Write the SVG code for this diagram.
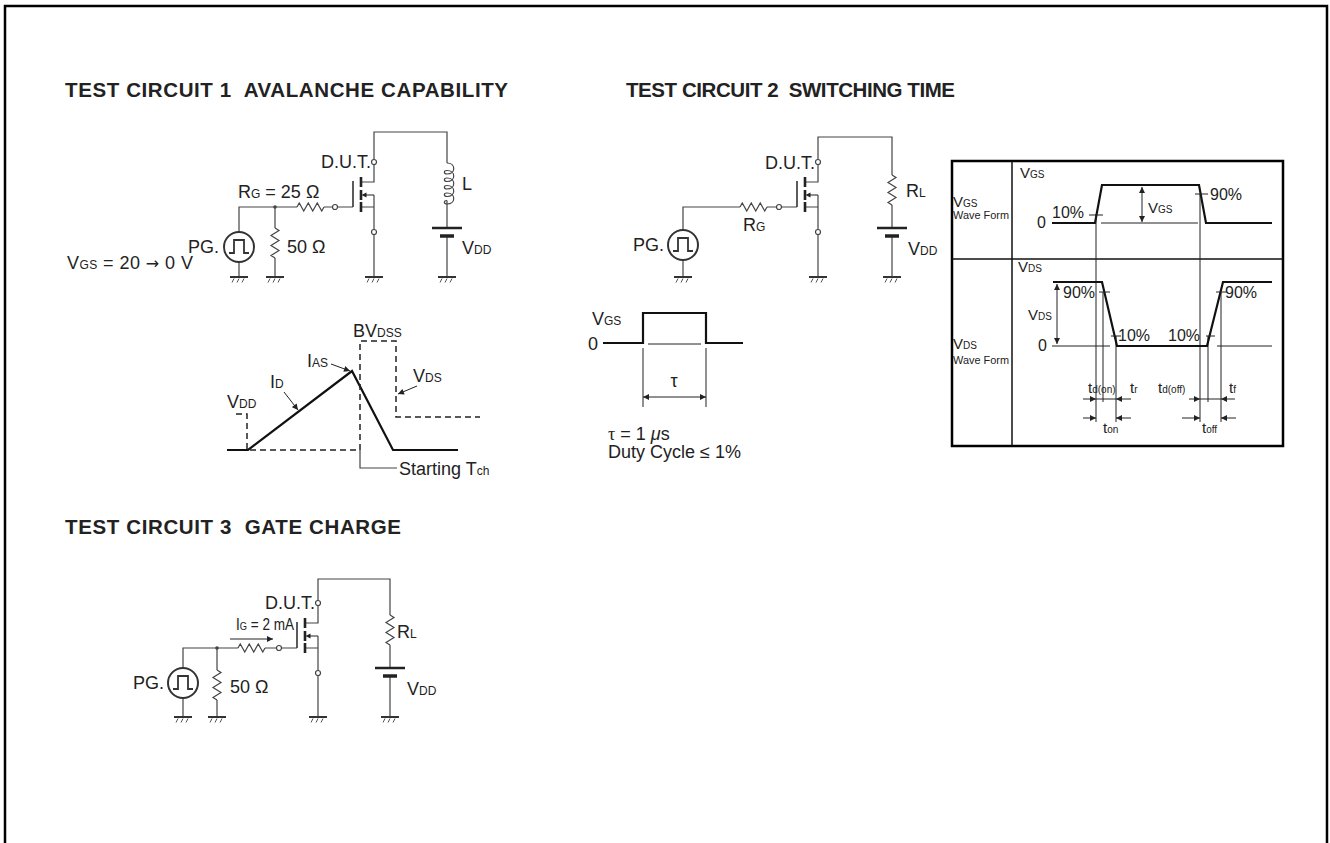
<svg xmlns="http://www.w3.org/2000/svg" xmlns:xlink="http://www.w3.org/1999/xlink" width="1330" height="843" viewBox="0 0 1330 843">
<style>
  text { font-family: "Liberation Sans", Arial, sans-serif; fill: #222; font-size: 18px; }
  .title { font-weight: bold; font-size: 20.5px; white-space: pre; }
  .s { font-size: 12px; }
  .sm { font-size: 15px; }
  .sm .s { font-size: 10px; }
  .wf { font-size: 10.5px; }
  .pct { font-size: 16px; }
  .t { font-size: 15px; }
  .t .s { font-size: 10px; }
  .ig { font-size: 16px; }
  .ig .s { font-size: 11px; }
  .arr { font-family: "DejaVu Sans", sans-serif; font-size: 16px; }
  .w { stroke: #444; stroke-width: 1.2; fill: none; }
  .thk { stroke: #111; stroke-width: 2.2; fill: none; }
  .th { stroke: #222; stroke-width: 1; fill: none; }
  .dash { stroke: #222; stroke-width: 1.5; fill: none; stroke-dasharray: 6 4; }
  .term { stroke: #444; stroke-width: 1.2; fill: #fff; }
  .frame { stroke: #000; stroke-width: 2.5; fill: none; }
</style>
<defs>
  <marker id="ah" viewBox="0 0 10 10" refX="10" refY="5" markerWidth="7" markerHeight="6" markerUnits="userSpaceOnUse" orient="auto-start-reverse">
    <path d="M0,0 L10,5 L0,10 z" fill="#222"/>
  </marker>
  <g id="gnd">
    <line x1="-9" y1="0" x2="9" y2="0" stroke="#333" stroke-width="2"/>
    <path d="M-5,1.5 l-2,4 M0,1.5 l-2,4 M5,1.5 l-2,4" stroke="#555" stroke-width="1" fill="none"/>
  </g>
  <g id="pg">
    <circle cx="0" cy="0" r="15" stroke="#333" stroke-width="2" fill="#fff"/>
    <path d="M-10,6 H-5 V-7 H5 V6 H10" stroke="#333" stroke-width="1.8" fill="none"/>
  </g>
  <path id="resH" d="M0,0 l2.25,-4 l4.5,8 l4.5,-8 l4.5,8 l4.5,-8 l4.5,8 l2.25,-4" stroke="#444" stroke-width="1.2" fill="none"/>
  <path id="resV" d="M0,0 l4,2.5 l-8,5 l8,5 l-8,5 l8,5 l-8,5 l4,2.5" stroke="#444" stroke-width="1.2" fill="none"/>
  <g id="bat">
    <line x1="-15" y1="0" x2="15" y2="0" stroke="#222" stroke-width="2.5"/>
    <line x1="-7" y1="8" x2="7" y2="8" stroke="#222" stroke-width="3.5"/>
  </g>
  <g id="mos">
    <path d="M0,-42.5 V-25 H-13 M0,-12 V22.5 M0,0 H-13 M-36.5,0 H-21" stroke="#444" stroke-width="1.2" fill="none"/>
    <path d="M-13,-30 V-20 M-13,-17 V-7 M-13,-5 V5" stroke="#222" stroke-width="2.6" fill="none"/>
    <line x1="-21" y1="-26" x2="-21" y2="0" stroke="#333" stroke-width="1.6"/>
    <line x1="0" y1="-12" x2="-9" y2="-12" stroke="#444" stroke-width="1.2"/>
    <polygon points="-12.5,-12 -7.5,-14.5 -7.5,-9.5" fill="#222"/>
    <circle cx="0" cy="-45" r="2.5" class="term"/>
    <circle cx="0" cy="25" r="2.5" class="term"/>
    <circle cx="-39" cy="0" r="2.5" class="term"/>
  </g>
</defs>

<rect x="0" y="0" width="1330" height="843" fill="#fff"/>
<path class="frame" d="M5,843 V6 H1327 V843"/>

<g id="titles">
  <text class="title" x="65" y="97" textLength="443" lengthAdjust="spacing" xml:space="preserve">TEST CIRCUIT 1  AVALANCHE CAPABILITY</text>
  <text class="title" x="626" y="97" textLength="329" lengthAdjust="spacing" xml:space="preserve">TEST CIRCUIT 2  SWITCHING TIME</text>
  <text class="title" x="65" y="534" textLength="336" lengthAdjust="spacing" xml:space="preserve">TEST CIRCUIT 3  GATE CHARGE</text>
</g>

<!-- ================= TEST CIRCUIT 1 ================= -->
<g id="tc1">
  <g id="tc1-wires">
    <path class="w" d="M374,159.5 V132 H447 V163"/>
    <path class="w" d="M239,232 V207 H297 M324,207 H332.5"/>
    <path class="w" d="M239,262 V277"/>
    <path class="w" d="M275,207 V228 M275,258 V277"/>
    <path class="w" d="M374,234.5 V277"/>
    <path class="w" d="M447,200.5 V228 M447,236 V277"/>
    <circle cx="275" cy="207" r="1.8" fill="#444"/>
  </g>
  <g id="tc1-dut"><use href="#mos" x="374" y="207"/></g>
  <g id="tc1-rg"><use href="#resH" x="297" y="207"/></g>
  <g id="tc1-r50"><use href="#resV" x="275" y="228"/></g>
  <g id="tc1-pg"><use href="#pg" x="239" y="247"/></g>
  <g id="tc1-L"><path class="w" d="M447,163 c9,0 9,11 0,11 c-3.5,0 -3.5,-3.5 0,-3.5 c9,0 9,11 0,11 c-3.5,0 -3.5,-3.5 0,-3.5 c9,0 9,11 0,11 c-3.5,0 -3.5,-3.5 0,-3.5 c9,0 9,11 0,11 c-3.5,0 -3.5,-3.5 0,-3.5 c9,0 9,11 0,11 c-3.5,0 -3.5,-3.5 0,-3.5" stroke-width="1.4"/></g>
  <g id="tc1-vdd"><use href="#bat" x="447" y="228"/></g>
  <g id="tc1-gnd">
    <use href="#gnd" x="239" y="277"/><use href="#gnd" x="275" y="277"/>
    <use href="#gnd" x="374" y="277"/><use href="#gnd" x="447" y="277"/>
  </g>
  <g id="tc1-labels">
    <text x="371" y="168" text-anchor="end">D.U.T.</text>
    <text x="238" y="198">R<tspan class="s">G</tspan> = 25 Ω</text>
    <text x="188" y="253">PG.</text>
    <text x="287" y="253">50 Ω</text>
    <text x="67" y="269" textLength="126" lengthAdjust="spacing">V<tspan class="s">GS</tspan> = 20 <tspan class="arr">→</tspan> 0 V</text>
    <text x="462" y="190">L</text>
    <text x="462" y="254">V<tspan class="s">DD</tspan></text>
  </g>
</g>

<!-- Avalanche waveform -->
<g id="avalanche">
  <path class="thk" d="M227,450 H248 L352,371 L393,450 H458"/>
  <path class="dash" d="M236,414 H247 V450 H360 V341 H396 V417 H480"/>
  <path class="w" d="M360,450 V468 H397" stroke="#222"/>
  <line class="th" x1="331" y1="364" x2="350" y2="371" marker-end="url(#ah)"/>
  <line class="th" x1="284" y1="392" x2="298" y2="410" marker-end="url(#ah)"/>
  <line class="th" x1="417" y1="386" x2="398" y2="394" marker-end="url(#ah)"/>
  <text x="353" y="337">BV<tspan class="s">DSS</tspan></text>
  <text x="307" y="367">I<tspan class="s">AS</tspan></text>
  <text x="270" y="388">I<tspan class="s">D</tspan></text>
  <text x="413" y="382">V<tspan class="s">DS</tspan></text>
  <text x="227" y="408">V<tspan class="s">DD</tspan></text>
  <text x="399" y="475">Starting T<tspan class="s">ch</tspan></text>
</g>

<!-- ================= TEST CIRCUIT 2 ================= -->
<g id="tc2">
  <g id="tc2-wires">
    <path class="w" d="M818,160.5 V137 H892 V175"/>
    <path class="w" d="M683,230 V207 H740 M767,207 H776.5"/>
    <path class="w" d="M683,260 V277"/>
    <path class="w" d="M818,234.5 V277"/>
    <path class="w" d="M892,205 V228 M892,236 V277"/>
  </g>
  <g id="tc2-dut"><use href="#mos" x="818" y="207"/></g>
  <g id="tc2-rg"><use href="#resH" x="740" y="207"/></g>
  <g id="tc2-pg"><use href="#pg" x="683" y="245"/></g>
  <g id="tc2-rl"><use href="#resV" x="892" y="175"/></g>
  <g id="tc2-vdd"><use href="#bat" x="892" y="228"/></g>
  <g id="tc2-gnd">
    <use href="#gnd" x="683" y="277"/><use href="#gnd" x="818" y="277"/><use href="#gnd" x="892" y="277"/>
  </g>
  <g id="tc2-labels">
    <text x="815" y="169" text-anchor="end">D.U.T.</text>
    <text x="743" y="231">R<tspan class="s">G</tspan></text>
    <text x="633" y="251">PG.</text>
    <text x="906" y="197">R<tspan class="s">L</tspan></text>
    <text x="908" y="255">V<tspan class="s">DD</tspan></text>
  </g>
</g>

<!-- Gate pulse -->
<g id="pulse">
  <path class="thk" d="M603,343 H643 V313 H706 V343 H743"/>
  <line class="th" x1="648" y1="344" x2="701" y2="344"/>
  <line class="th" x1="643" y1="348" x2="643" y2="407"/>
  <line class="th" x1="706" y1="348" x2="706" y2="407"/>
  <line class="th" x1="643" y1="397" x2="706" y2="397" marker-start="url(#ah)" marker-end="url(#ah)"/>
  <text x="592" y="325">V<tspan class="s">GS</tspan></text>
  <text x="588" y="350">0</text>
  <text x="674" y="387" text-anchor="middle" font-family="Liberation Serif, serif">τ</text>
  <text x="608" y="440"><tspan font-family="Liberation Serif, serif">τ</tspan> = 1 <tspan font-style="italic">μ</tspan>s</text>
  <text x="608" y="458">Duty Cycle ≤ 1%</text>
</g>

<!-- Switching waveform box -->
<g id="waveforms">
  <rect x="952" y="161" width="331" height="285" fill="none" stroke="#000" stroke-width="2.5"/>
  <line x1="1012" y1="161" x2="1012" y2="446" stroke="#111" stroke-width="1.5"/>
  <line x1="952" y1="259" x2="1283" y2="259" stroke="#111" stroke-width="1.5"/>
  <!-- VGS -->
  <path class="thk" d="M1052,223 H1095 L1102,185 H1199 L1206,223 H1272" stroke-width="2"/>
  <line class="th" x1="1101" y1="223" x2="1198" y2="223"/>
  <line class="th" x1="1089" y1="215" x2="1103" y2="215"/>
  <line class="th" x1="1195" y1="194" x2="1208" y2="194"/>
  <line class="th" x1="1142" y1="187" x2="1142" y2="222" marker-start="url(#ah)" marker-end="url(#ah)"/>
  <!-- verticals -->
  <line class="th" x1="1096" y1="214" x2="1096" y2="422"/>
  <line class="th" x1="1200" y1="194" x2="1200" y2="422"/>
  <line class="th" x1="1103" y1="292" x2="1103" y2="402"/>
  <line class="th" x1="1116" y1="336" x2="1116" y2="422"/>
  <line class="th" x1="1208" y1="336" x2="1208" y2="402"/>
  <line class="th" x1="1221" y1="292" x2="1221" y2="422"/>
  <!-- VDS -->
  <path class="thk" d="M1053,282 H1102 L1117,346 H1207 L1223,282 H1272" stroke-width="2"/>
  <line class="th" x1="1052" y1="346" x2="1110" y2="346"/>
  <line class="th" x1="1217" y1="346" x2="1272" y2="346"/>
  <line class="th" x1="1057" y1="284" x2="1057" y2="344" marker-start="url(#ah)" marker-end="url(#ah)"/>
  <line class="th" x1="1099" y1="292" x2="1110" y2="292"/>
  <line class="th" x1="1111" y1="336" x2="1121" y2="336"/>
  <line class="th" x1="1206" y1="336" x2="1215" y2="336"/>
  <line class="th" x1="1216" y1="292" x2="1227" y2="292"/>
  <!-- time arrows -->
  <line class="th" x1="1083" y1="399" x2="1096" y2="399" marker-end="url(#ah)"/>
  <line class="th" x1="1096" y1="399" x2="1116" y2="399"/>
  <line class="th" x1="1131" y1="399" x2="1116" y2="399" marker-end="url(#ah)"/>
  <line class="th" x1="1083" y1="418" x2="1096" y2="418" marker-end="url(#ah)"/>
  <line class="th" x1="1131" y1="418" x2="1116" y2="418" marker-end="url(#ah)"/>
  <line class="th" x1="1189" y1="399" x2="1200" y2="399" marker-end="url(#ah)"/>
  <line class="th" x1="1200" y1="399" x2="1221" y2="399"/>
  <line class="th" x1="1235" y1="399" x2="1221" y2="399" marker-end="url(#ah)"/>
  <line class="th" x1="1182" y1="418" x2="1200" y2="418" marker-end="url(#ah)"/>
  <line class="th" x1="1236" y1="418" x2="1221" y2="418" marker-end="url(#ah)"/>
  <!-- labels -->
  <text class="sm" x="1020" y="178">V<tspan class="s">GS</tspan></text>
  <text class="sm" x="953" y="207">V<tspan class="s">GS</tspan></text>
  <text class="wf" x="953" y="219" textLength="56" lengthAdjust="spacingAndGlyphs">Wave Form</text>
  <text class="pct" x="1037" y="228">0</text>
  <text class="pct" x="1052" y="218">10%</text>
  <text class="pct" x="1210" y="200">90%</text>
  <text class="sm" x="1148" y="213">V<tspan class="s">GS</tspan></text>
  <text class="sm" x="1018" y="272">V<tspan class="s">DS</tspan></text>
  <text class="pct" x="1063" y="298">90%</text>
  <text class="sm" x="1028" y="320">V<tspan class="s">DS</tspan></text>
  <text class="pct" x="1038" y="351">0</text>
  <text class="pct" x="1118" y="341">10%</text>
  <text class="pct" x="1168" y="341">10%</text>
  <text class="pct" x="1225" y="298">90%</text>
  <text class="sm" x="953" y="349">V<tspan class="s">DS</tspan></text>
  <text class="wf" x="953" y="364" textLength="56" lengthAdjust="spacingAndGlyphs">Wave Form</text>
  <text class="t" x="1088" y="393">t<tspan class="s">d(on)</tspan></text>
  <text class="t" x="1130" y="393">t<tspan class="s">r</tspan></text>
  <text class="t" x="1158" y="393">t<tspan class="s">d(off)</tspan></text>
  <text class="t" x="1229" y="393">t<tspan class="s">f</tspan></text>
  <text class="t" x="1103" y="433">t<tspan class="s">on</tspan></text>
  <text class="t" x="1202" y="433">t<tspan class="s">off</tspan></text>
</g>

<!-- ================= TEST CIRCUIT 3 ================= -->
<g id="tc3">
  <g id="tc3-wires">
    <path class="w" d="M318,600.5 V579 H390 V615"/>
    <path class="w" d="M183,668 V648 H238 M265,648 H276.5"/>
    <path class="w" d="M183,698 V717"/>
    <path class="w" d="M217,648 V670 M217,700 V717"/>
    <path class="w" d="M318,675.5 V717"/>
    <path class="w" d="M390,645 V668 M390,677 V717"/>
    <circle cx="217" cy="648" r="1.8" fill="#444"/>
    <line class="th" x1="230" y1="639" x2="273" y2="639" marker-end="url(#ah)"/>
  </g>
  <g id="tc3-dut"><use href="#mos" x="318" y="648"/></g>
  <g id="tc3-rg"><use href="#resH" x="238" y="648"/></g>
  <g id="tc3-r50"><use href="#resV" x="217" y="670"/></g>
  <g id="tc3-pg"><use href="#pg" x="183" y="683"/></g>
  <g id="tc3-rl"><use href="#resV" x="390" y="615"/></g>
  <g id="tc3-vdd"><use href="#bat" x="390" y="668"/></g>
  <g id="tc3-gnd">
    <use href="#gnd" x="183" y="717"/><use href="#gnd" x="217" y="717"/>
    <use href="#gnd" x="318" y="717"/><use href="#gnd" x="390" y="717"/>
  </g>
  <g id="tc3-labels">
    <text x="315" y="609" text-anchor="end">D.U.T.</text>
    <text class="ig" x="236" y="630" textLength="58" lengthAdjust="spacingAndGlyphs">I<tspan class="s">G</tspan> = 2 mA</text>
    <text x="133" y="689">PG.</text>
    <text x="230" y="693">50 Ω</text>
    <text x="397" y="638">R<tspan class="s">L</tspan></text>
    <text x="407" y="695">V<tspan class="s">DD</tspan></text>
  </g>
</g>
</svg>
